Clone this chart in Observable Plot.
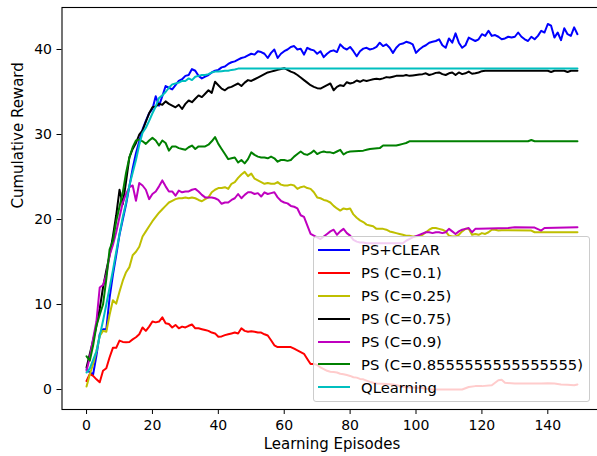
<!DOCTYPE html>
<html>
<head>
<meta charset="utf-8">
<script src="https://cdn.jsdelivr.net/npm/d3@7"></script>
<script src="https://cdn.jsdelivr.net/npm/@observablehq/plot@0.6"></script>
<style>
  html, body { margin: 0; padding: 0; background: #fff; }
  #wrap { position: relative; width: 597px; height: 456px; overflow: hidden; font-family: "DejaVu Sans", sans-serif; }
  #legend { position: absolute; left: 313px; top: 236px; width: 277px; height: 166px; box-sizing: border-box;
    border: 1px solid #cccccc; border-radius: 3px; background: rgba(255,255,255,0.8); padding-top: 1.5px; }
  .row { display: flex; align-items: center; height: 22.9px; font-size: 14.8px; color: #000; white-space: nowrap; }
  .handle { width: 32px; height: 2px; margin-left: 4px; margin-right: 11px; }
</style>
</head>
<body>
<div id="wrap"></div>
<script>
const seriesNames = ["PS+CLEAR", "PS (C=0.1)", "PS (C=0.25)", "PS (C=0.75)", "PS (C=0.9)", "PS (C=0.8555555555555555)", "QLearning"];
const seriesColors = ["#0000ff", "#ff0000", "#bfbf00", "#000000", "#bf00bf", "#008000", "#00bfbf"];
const xTicks = [0, 20, 40, 60, 80, 100, 120, 140];
const yTicks = [0, 10, 20, 30, 40];

const psClear = [[0,2.4],[1,2.0],[2,1.8],[3,4.0],[4,6.5],[5,7.1],[6,7.1],[7,10.8],[8,13.5],[9,15.8],[10,18.2],[11,20],[12,21.8],[13,23.9],[14,26],[15,27.8],[16,29.2],[17,30.6],[18,31.6],[19,32.5],[20,33],[21,34.5],[22,33.4],[23,34.5],[24,35.7],[25,35.5],[26,35.3],[27,35.8],[28,36.3],[29,36.5],[30,36.9],[31,37],[32,37.7],[33,37.5],[34,36.9],[35,36.6],[36,36.8],[37,37],[38,37.3],[39,37.5],[40,37.6],[41,37.9],[42,38],[43,38.3],[44,38.5],[45,38.6],[46,38.8],[47,39],[48,39.1],[49,39.3],[50,39.5],[51,39.4],[52,39.8],[53,39.7],[54,39.5],[55,39.0],[56,39.6],[57,40.0],[58,39.0],[59,39.5],[60,39.8],[61,40.0],[62,40.3],[63,40.4],[64,40.0],[65,40.1],[66,39.4],[67,40.2],[68,40.0],[69,39.9],[70,39.5],[71,39.8],[72,39.1],[73,39.5],[74,39.8],[75,39.9],[76,39.7],[77,40.6],[78,40.2],[79,40.0],[80,40.3],[81,39.8],[82,39.2],[83,39.8],[84,40.1],[85,40.2],[86,40.0],[87,40.1],[88,40.3],[89,40.8],[90,40.4],[91,40.6],[92,40.2],[93,39.6],[94,40.2],[95,40.6],[96,40.7],[97,40.9],[98,40.8],[99,40.6],[100,39.6],[101,40.0],[102,40.3],[103,40.5],[104,40.8],[105,40.9],[106,41.0],[107,41.2],[108,40.5],[109,40.2],[110,41.3],[111,40.8],[112,41.9],[113,40.8],[114,40.2],[115,40.5],[116,41.4],[117,41.2],[118,41.0],[119,41.2],[120,41.8],[121,41.6],[122,42.2],[123,41.6],[124,41.7],[125,41.5],[126,41.2],[127,41.3],[128,41.5],[129,41.4],[130,41.5],[131,42.0],[132,41.5],[133,41.2],[134,41.0],[135,41.5],[136,41.2],[137,41.6],[138,42.2],[139,42.0],[140,43.0],[141,42.8],[142,41.4],[143,42.0],[144,41.1],[145,42.5],[146,41.8],[147,41.6],[148,42.6],[149,41.8]];

const psC010 = [[0,1.0],[1,1.85],[2,1.6],[3,1.2],[4,0.85],[5,2.2],[6,2.5],[7,3.8],[8,4.9],[9,4.9],[10,5.75],[11,5.6],[12,5.55],[13,5.6],[14,5.9],[15,6.15],[16,6.5],[17,7.3],[18,6.9],[19,7.4],[20,8.0],[21,7.9],[22,8.0],[23,8.5],[24,7.8],[25,7.7],[26,7.3],[27,7.6],[28,7.2],[29,7.4],[30,7.3],[31,7.5],[32,7.65],[33,7.2],[34,7.2],[35,7.1],[36,7.0],[37,6.9],[38,6.7],[39,6.6],[40,6.2],[41,6.25],[42,6.4],[43,6.5],[44,6.6],[45,6.7],[46,6.6],[47,7.2],[48,6.9],[49,6.8],[50,6.85],[51,6.8],[52,6.7],[53,6.7],[54,6.5],[55,6.35],[56,5.8],[57,5.2],[58,5.0],[59,5.0],[60,5.0],[61,5.0],[62,5.0],[63,4.8],[64,4.6],[65,4.4],[66,4.2],[67,3.6],[68,3.0],[69,3.0],[70,2.9],[71,2.6],[72,2.4],[73,2.2],[74,2.1],[75,2.05],[76,2.0],[77,1.85],[78,1.8],[79,1.7],[80,1.6],[81,1.45],[82,1.4],[83,1.25],[84,1.2],[85,1.05],[86,0.9],[87,0.8],[88,0.7],[90,0.67],[93,0.6],[97,0.27],[101,0.2],[105,0.0],[110,0.0],[114,0.0],[116,0.3],[118,0.4],[120,0.4],[123,0.5],[124,0.8],[125,1.1],[126,1.15],[127,0.8],[130,0.7],[135,0.7],[138,0.7],[140,0.75],[142,0.7],[144,0.6],[146,0.55],[148,0.5],[149,0.6]];

const psC025 = [[0,0.35],[1,1.8],[2,3.0],[3,4.5],[4,6.3],[5,6.9],[6,6.8],[7,8.8],[8,10.5],[9,10.1],[10,11.5],[11,12.8],[12,13.8],[13,14.4],[14,15.8],[15,16.2],[16,16.8],[17,18.0],[18,18.6],[19,19.2],[20,19.8],[21,20.3],[22,20.8],[23,21.2],[24,21.6],[25,22.0],[26,22.2],[27,22.4],[28,22.5],[29,22.5],[30,22.6],[31,22.5],[32,22.6],[33,22.5],[34,22.3],[35,22.15],[36,22.4],[37,22.6],[38,23.2],[39,23.5],[40,23.7],[41,23.7],[42,23.8],[43,23.6],[44,24.2],[45,24.4],[46,24.9],[47,25.3],[48,25.6],[49,25.1],[50,25.4],[51,24.8],[52,24.6],[53,24.4],[54,24.2],[55,24.3],[56,24.2],[57,24.2],[58,24.4],[59,24.1],[60,24.0],[61,24.0],[62,24.1],[63,24.0],[64,23.6],[65,23.8],[66,23.9],[67,23.7],[68,23.6],[69,23.2],[70,22.6],[71,22.5],[72,22.3],[73,22.2],[74,22.0],[75,21.6],[76,21.3],[77,21.05],[78,21.3],[79,21.2],[80,21.3],[81,20.6],[82,20.2],[83,19.9],[84,19.7],[85,19.4],[86,19.3],[87,19.2],[88,18.9],[89,18.9],[90,18.9],[91,18.8],[92,18.6],[93,18.5],[94,18.4],[95,18.3],[96,18.2],[97,18.1],[98,18.1],[99,18.0],[100,18.0],[101,18.1],[102,18.2],[103,18.5],[104,18.8],[105,19.0],[106,19.0],[107,18.9],[108,18.8],[109,18.6],[110,18.1],[111,18.0],[112,18.0],[113,18.2],[114,18.6],[115,18.9],[116,18.9],[117,18.2],[118,18.3],[119,18.2],[120,18.4],[121,18.3],[122,18.5],[123,18.8],[124,18.8],[125,18.7],[126,18.75],[127,18.75],[135,18.7],[136,18.5],[149,18.5]];

const psC075 = [[0,2.6],[1,4.2],[2,5.8],[3,7.5],[4,9.5],[5,12],[6,14],[7,15.8],[8,18],[9,20.5],[10,23.5],[11,21.8],[12,24.5],[13,27.3],[14,28.3],[15,29],[16,30],[17,30.5],[18,31.5],[19,32.5],[20,33.2],[21,33.3],[22,33.6],[23,33.5],[24,33.9],[25,33.6],[26,33.4],[27,33.2],[28,33.5],[29,33.0],[30,33.6],[31,34.0],[32,33.8],[33,34.2],[34,34.6],[35,34.4],[36,34.8],[37,35.2],[38,34.9],[39,36.2],[40,35.8],[41,35.4],[42,35.2],[43,35.5],[44,35.6],[45,35.8],[46,36.0],[47,35.7],[48,36.1],[49,36.4],[50,36.3],[51,36.5],[52,36.7],[53,36.9],[54,37.1],[55,37.3],[56,37.4],[57,37.5],[58,37.6],[59,37.7],[60,37.8],[61,37.6],[62,37.4],[63,37.25],[64,37.0],[65,36.7],[66,36.4],[67,36.1],[68,35.8],[69,35.6],[70,35.45],[71,35.4],[72,35.6],[73,35.8],[74,36.0],[75,35.2],[76,35.6],[77,35.8],[78,35.7],[79,36.15],[80,36.0],[81,36.1],[82,36.35],[83,36.2],[84,36.4],[85,36.3],[86,36.4],[87,36.5],[88,36.55],[89,36.5],[90,36.6],[91,36.75],[92,36.7],[93,36.8],[94,36.9],[95,36.9],[96,36.9],[97,37.0],[98,36.9],[99,36.95],[100,37.0],[101,37.05],[102,37.1],[103,37.2],[104,37.0],[105,37.1],[106,37.25],[107,37.3],[108,37.1],[109,37.0],[110,37.2],[111,37.3],[112,37.0],[113,37.3],[114,37.1],[115,37.2],[116,37.4],[117,37.15],[118,37.2],[119,37.3],[120,37.45],[121,37.5],[140,37.5],[141,37.35],[142,37.5],[145,37.5],[146,37.35],[147,37.5],[149,37.5]];

const psC090 = [[0,2.2],[1,3.8],[2,6.0],[3,8.0],[4,12.0],[5,12.3],[6,13.5],[7,15.8],[8,17.0],[9,18.5],[10,20.3],[11,22.0],[12,23.0],[13,23.8],[14,24.0],[15,22.2],[16,24.3],[17,24.0],[18,23.5],[19,22.4],[20,23.0],[21,23.3],[22,23.9],[23,24.6],[24,23.9],[25,23.3],[26,23.3],[27,22.8],[28,23.4],[29,23.2],[30,23.3],[31,23.3],[32,23.5],[33,23.6],[34,23.3],[35,22.9],[36,22.6],[37,22.6],[38,22.6],[39,22.5],[40,22.3],[41,21.85],[42,22.0],[43,22.0],[44,22.3],[45,22.5],[46,23.0],[47,22.5],[48,22.9],[49,23.2],[50,23.2],[51,23.0],[52,23.1],[53,22.7],[54,23.2],[55,23.0],[56,23.1],[57,23.2],[58,22.6],[59,22.2],[60,22.0],[61,21.9],[62,21.6],[63,21.5],[64,21.3],[65,20.5],[66,20.3],[67,19.3],[68,18.3],[69,18.1],[70,17.9],[71,17.7],[72,18.0],[73,18.3],[74,18.6],[75,18.8],[76,18.2],[77,18.6],[78,18.9],[79,18.4],[80,18.1],[81,17.6],[82,17.4],[83,17.3],[84,17.3],[85,17.2],[96,17.2],[97,17.5],[99,17.9],[101,18.2],[103,18.5],[104,18.5],[105,18.4],[106,18.5],[107,18.5],[108,18.4],[109,18.5],[110,18.9],[111,18.6],[112,18.3],[113,18.6],[114,18.8],[115,18.9],[116,19.0],[117,18.5],[118,18.9],[119,18.9],[128,19.0],[130,19.1],[136,19.05],[138,18.7],[139,19.0],[149,19.1]];

const psC0855 = [[0,3.9],[1,3.4],[2,5.2],[3,7.5],[4,8.8],[5,10],[6,13],[7,16.5],[8,17.5],[9,19.8],[10,21.5],[11,23.2],[12,25.5],[13,27.3],[14,28.5],[15,29.3],[16,29.4],[17,29.2],[18,28.9],[19,29.3],[20,29.6],[21,29.3],[22,28.7],[23,29.3],[24,29.0],[25,28.1],[26,28.6],[27,28.6],[28,28.4],[29,28.3],[30,28.2],[31,28.5],[32,28.7],[33,28.3],[34,28.6],[35,28.6],[36,28.6],[37,28.8],[38,29.2],[39,29.7],[40,28.9],[41,28.3],[42,27.7],[43,27.1],[44,27.2],[45,27.3],[46,26.7],[47,27.0],[48,26.6],[49,27.1],[50,27.9],[51,27.6],[52,27.4],[53,27.3],[54,27.3],[55,27.2],[56,27.4],[57,27.2],[58,26.8],[59,27.0],[60,27.0],[61,26.9],[62,27.0],[63,27.4],[64,27.7],[65,28.0],[66,27.7],[67,27.6],[68,27.8],[69,28.1],[70,27.7],[71,27.9],[72,28.0],[73,27.9],[74,27.9],[75,27.8],[76,28.0],[77,28.2],[78,27.65],[79,27.9],[80,28.0],[84,28.1],[85,28.2],[86,28.3],[89,28.4],[90,28.7],[94,28.7],[95,28.8],[96,28.9],[97,29.0],[98,29.2],[134,29.2],[135,29.35],[136,29.2],[149,29.2]];

const qLearning = [[0,2.0],[1,2.5],[2,3.5],[3,4.5],[4,6.3],[5,8.1],[6,10],[7,12],[8,14],[9,16.2],[10,18.3],[11,20.3],[12,22],[13,24],[14,25.5],[15,27],[16,28.8],[17,30.2],[18,30.8],[19,31.6],[20,32.5],[21,33.3],[22,34.3],[23,34.6],[24,35.0],[25,35.5],[26,35.9],[27,36.0],[28,36.1],[29,36.3],[30,36.3],[31,36.6],[32,36.4],[33,36.8],[34,36.9],[35,37.0],[36,37.0],[37,37.1],[38,37.3],[39,37.4],[40,37.4],[41,37.45],[42,37.5],[43,37.5],[44,37.6],[45,37.65],[46,37.75],[149,37.75]];

const allSeries = [psClear, psC010, psC025, psC075, psC090, psC0855, qLearning];

const lineMarks = allSeries.map((pts, k) =>
  Plot.line(pts.map(([e, v]) => ({episode: e, reward: v})), {
    x: "episode", y: "reward", stroke: seriesColors[k], strokeWidth: 2
  })
);

const chart = Plot.plot({
  width: 597,
  height: 456,
  marginLeft: 61.5,
  marginRight: -4.5,
  marginTop: 7,
  marginBottom: 47,
  style: {fontFamily: "DejaVu Sans, sans-serif", fontSize: "14px", color: "#000", background: "#fff", overflow: "hidden"},
  x: {domain: [-7.45, 156.45]},
  y: {domain: [-2.35, 44.94]},
  marks: [
    ...lineMarks,
    Plot.frame({stroke: "#000", strokeWidth: 1.1}),
    Plot.axisX({ticks: xTicks, tickSize: 5, tickPadding: 6, fontSize: 14, label: null}),
    Plot.axisY({ticks: yTicks, tickSize: 5, tickPadding: 5, fontSize: 14, label: null}),
    Plot.text(["Learning Episodes"], {frameAnchor: "bottom", dy: 39, fontSize: 15, fill: "#000"}),
    Plot.text(["Cumulative Reward"], {frameAnchor: "left", dx: -44, rotate: -90, fontSize: 15, fill: "#000"})
  ]
});

const wrap = document.getElementById("wrap");
wrap.appendChild(chart);

const legend = document.createElement("div");
legend.id = "legend";
seriesNames.forEach((name, k) => {
  const row = document.createElement("div");
  row.className = "row";
  const h = document.createElement("span");
  h.className = "handle";
  h.style.background = seriesColors[k];
  const t = document.createElement("span");
  t.textContent = name;
  row.appendChild(h);
  row.appendChild(t);
  legend.appendChild(row);
});
wrap.appendChild(legend);
</script>
</body>
</html>
